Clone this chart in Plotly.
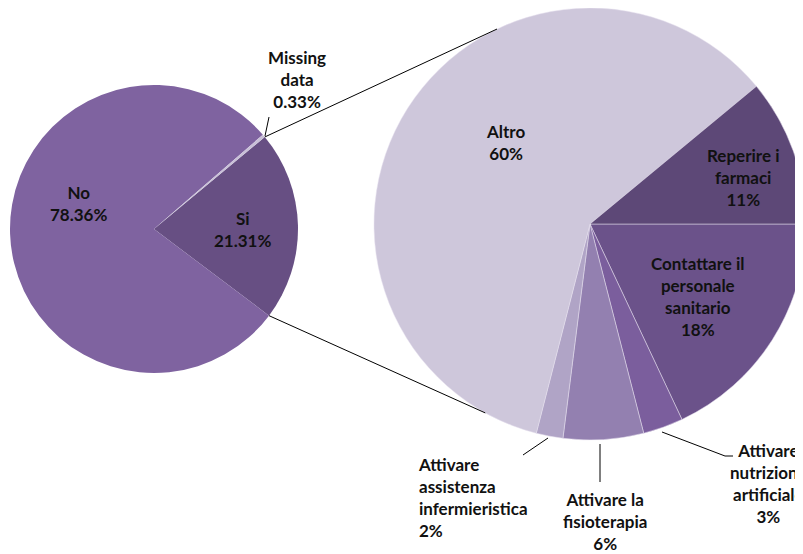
import math
import plotly.graph_objects as go

# main pie (left), drawn clockwise starting with "Si"
main_labels = ['Si', 'No', 'Missing data']
main_values = [21.31, 78.36, 0.33]
main_colors = ['#674F83', '#7F63A0', '#C9C0D8']

# breakdown of "Si" (right), clockwise from 3 o'clock
sub_labels = ['Contattare il personale sanitario', 'Attivare nutrizione artificiale',
              'Attivare la fisioterapia', 'Attivare assistenza infermieristica',
              'Altro', 'Reperire i farmaci']
sub_values = [18, 3, 6, 2, 60, 11]
sub_colors = ['#6B528A', '#7B5E9D', '#9380B0', '#B0A4C6', '#CEC7DB', '#5D4877']

W, H = 803, 554
OFF = 8  # page body margin
FONT = 'Lato'


def px(x):
    return (x - OFF) / W


def py(y):
    return 1 - (y - OFF) / H


def wrap(label, widths):
    # split label into lines of given word counts
    words = label.split()
    lines, i = [], 0
    for n in widths:
        lines.append(' '.join(words[i:i + n]))
        i += n
    return '<br>'.join(lines)


# pie geometry in window pixels
c1, r1 = (154, 229), 144
c2, r2 = (590, 224), 216

si_start = -37  # lower edge of "Si", degrees counterclockwise from 3 o'clock
si_end = si_start + main_values[0] / sum(main_values) * 360

fig = go.Figure()

fig.add_trace(go.Pie(
    labels=main_labels, values=main_values, sort=False,
    direction='clockwise', rotation=90 - si_end,
    marker=dict(colors=main_colors, line=dict(width=0)),
    textinfo='none', hoverinfo='label+percent', showlegend=False,
    domain=dict(x=[px(c1[0] - r1), px(c1[0] + r1)], y=[py(c1[1] + r1), py(c1[1] - r1)])
))

fig.add_trace(go.Pie(
    labels=sub_labels, values=sub_values, sort=False,
    direction='clockwise', rotation=90,
    marker=dict(colors=sub_colors, line=dict(color='#E6E0EE', width=0.5)),
    textinfo='none', hoverinfo='label+percent', showlegend=False,
    domain=dict(x=[px(c2[0] - r2), min(1, px(c2[0] + r2))], y=[py(c2[1] + r2), py(c2[1] - r2)])
))


def point(c, r, ang):
    a = math.radians(ang)
    return c[0] + r * math.cos(a), c[1] - r * math.sin(a)


# connectors between the pies (Si slice edges)
shapes = []
for a1, a2 in [(si_end, 115.5), (si_start, -119)]:
    x0, y0 = point(c1, r1, a1)
    x1, y1 = point(c2, r2, a2)
    shapes.append(dict(type='line', xref='paper', yref='paper',
                       x0=px(x0), y0=py(y0), x1=px(x1), y1=py(y1),
                       line=dict(color='black', width=1)))

# leader lines for outside labels
leaders = [
    [(265, 136), (269, 117)],
    [(548, 438), (523, 455)],
    [(600, 444), (600, 482)],
    [(662, 432), (725, 456), (733, 456)],
]
for pts in leaders:
    for (xa, ya), (xb, yb) in zip(pts[:-1], pts[1:]):
        shapes.append(dict(type='line', xref='paper', yref='paper',
                           x0=px(xa), y0=py(ya), x1=px(xb), y1=py(yb),
                           line=dict(color='black', width=1)))

pct_main = [f'{v:.2f}%' for v in main_values]
pct_sub = [f'{v}%' for v in sub_values]

labels = [
    (main_labels[1] + '<br>' + pct_main[1], 78, 203, 'center'),
    (main_labels[0] + '<br>' + pct_main[0], 242, 229, 'center'),
    (wrap(main_labels[2], [1, 1]) + '<br>' + pct_main[2], 297, 80, 'center'),
    (sub_labels[4] + '<br>' + pct_sub[4], 505, 142, 'center'),
    (wrap(sub_labels[5], [2, 1]) + '<br>' + pct_sub[5], 743, 178, 'center'),
    (wrap(sub_labels[0], [2, 1, 1]) + '<br>' + pct_sub[0], 698, 296, 'center'),
    (wrap(sub_labels[1], [1, 1, 1]) + '<br>' + pct_sub[1], 768, 483, 'center'),
    (wrap(sub_labels[3], [1, 1, 1]) + '<br>' + pct_sub[3], 416, 497, 'left'),
    (wrap(sub_labels[2], [2, 1]) + '<br>' + pct_sub[2], 605, 521, 'center'),
]
annotations = []
for text, x, y, al in labels:
    annotations.append(dict(
        text='<b>' + text + '</b>', x=px(x), y=py(y), xref='paper', yref='paper',
        xanchor=al, yanchor='middle', align=al, showarrow=False,
        font=dict(family=FONT, size=17, color='#111111')
    ))

fig.update_layout(
    width=W, height=H,
    margin=dict(l=0, r=0, t=0, b=0),
    paper_bgcolor='white', plot_bgcolor='white',
    shapes=shapes, annotations=annotations,
    showlegend=False
)

fig.write_html("out.html")
